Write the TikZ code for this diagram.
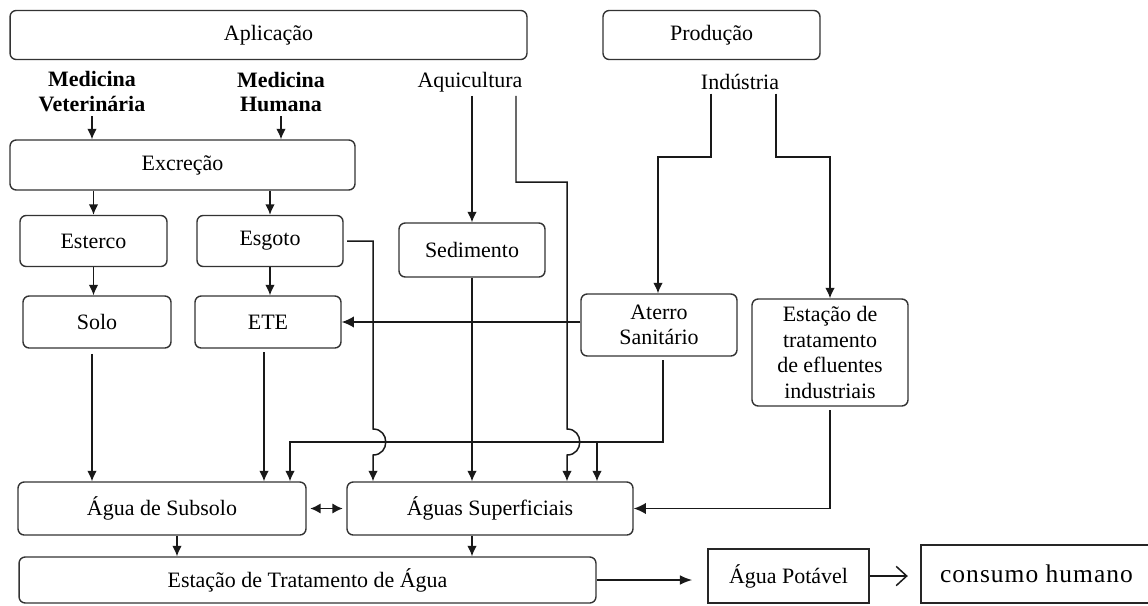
\documentclass[tikz,border=0pt]{standalone}
\usepackage{fontspec}
\setmainfont{Liberation Serif}
\usetikzlibrary{arrows.meta}

\begin{document}
\begin{tikzpicture}[x=0.02cm, y=-0.02cm,
    font=\fontsize{12.5}{14.5}\selectfont,
    box/.style={draw=black!80, line width=0.8pt, rounded corners=3.5pt, inner sep=0pt, align=center},
    plainbox/.style={draw=black!85, line width=0.9pt, inner sep=0pt, align=center},
    source/.style={inner sep=2pt, align=center},
    conn/.style={black!90, line width=0.85pt},
    tip/.style={-{Latex[length=6pt,width=5.5pt]}}]
    \useasboundingbox (0,0) rectangle (1148,605);
    % headers
    \node[box, minimum width=10.34cm, minimum height=0.98cm] (Aplicacao) at (268.5,35) {Aplicação};
    \node[box, minimum width=4.34cm, minimum height=0.98cm] (Producao) at (711.5,35) {Produção};
    % sources
    \node[source, font=\fontsize{12.5}{14.2}\selectfont\bfseries] (MedVet) at (92,92) {Medicina\\Veterinária};
    \node[source, font=\fontsize{12.5}{14.2}\selectfont\bfseries] (MedHum) at (281,92) {Medicina\\Humana};
    \node[source] (Aquicultura) at (470,82) {Aquicultura};
    \node[source] (Industria) at (740,82) {Indústria};
    % boxes
    \node[box, minimum width=6.9cm, minimum height=1.0cm] (Excrecao) at (182.5,165) {Excreção};
    \node[box, minimum width=2.94cm, minimum height=1.02cm] (Esterco) at (93.5,241) {Esterco};
    \node[box, minimum width=2.92cm, minimum height=1.02cm] (Esgoto) at (270,241) {Esgoto};
    \node[box, minimum width=2.92cm, minimum height=1.08cm] (Sedimento) at (472,250) {Sedimento};
    \node[box, minimum width=2.96cm, minimum height=1.04cm] (Solo) at (97,322) {Solo};
    \node[box, minimum width=2.92cm, minimum height=1.04cm] (ETE) at (268,322) {ETE};
    \node[box, minimum width=3.12cm, minimum height=1.24cm] (Aterro) at (659,325) {Aterro\\Sanitário};
    \node[box, minimum width=3.12cm, minimum height=2.14cm] (Efluentes) at (830,352.5) {Estação de\\tratamento\\de efluentes\\industriais};
    \node[box, minimum width=5.76cm, minimum height=1.06cm] (Subsolo) at (162,508.5) {Água de Subsolo};
    \node[box, minimum width=5.72cm, minimum height=1.06cm] (Superf) at (490,508.5) {Águas Superficiais};
    \node[box, minimum width=11.54cm, minimum height=0.92cm] (Estacao) at (307.5,580) {Estação de Tratamento de Água};
    \node[plainbox, minimum width=3.22cm, minimum height=1.08cm] (Potavel) at (788.5,576) {Água Potável};
    \node[plainbox, line width=1.4pt, minimum width=4.62cm, minimum height=1.16cm,
          font=\fontsize{14.5}{16}\selectfont\addfontfeature{LetterSpace=4}] (Consumo) at (1036.5,574) {consumo humano};
    % bends and hops
    \coordinate (AquiDrop)     at ([xshift=0.92cm]Aquicultura.south);
    \coordinate (AquiTurn)     at (567,182);
    \coordinate (AquiHopTop)   at (567,429);
    \coordinate (AquiHopBot)   at (567,455);
    \coordinate (EsgotoHopTop) at (373,429);
    \coordinate (EsgotoHopBot) at (373,455);
    \coordinate (IndLeftTurn)  at (658,157);
    \coordinate (IndRightTurn) at (830,157);
    \coordinate (BusLeft)      at (290,442);
    \coordinate (BusBranch)    at (597,442);
    % application side
    \draw[conn,tip] (MedVet.south) -- (MedVet.south |- Excrecao.north);
    \draw[conn,tip] (MedHum.south) -- (MedHum.south |- Excrecao.north);
    \draw[conn,tip] (Esterco.north |- Excrecao.south) -- (Esterco.north);
    \draw[conn,tip] (Esgoto.north |- Excrecao.south) -- (Esgoto.north);
    \draw[conn,tip] (Esterco.south) -- (Esterco.south |- Solo.north);
    \draw[conn,tip] (Esgoto.south) -- (Esgoto.south |- ETE.north);
    \draw[conn,tip] (Sedimento.north |- Aquicultura.south) -- (Sedimento.north);
    \draw[conn,tip,shorten <=3pt] ([xshift=-0.1cm]Solo.south) -- ([xshift=-0.1cm]Solo.south |- Subsolo.north);
    \draw[conn,tip,shorten <=2pt] ([xshift=-0.08cm]ETE.south) -- ([xshift=-0.08cm]ETE.south |- Subsolo.north);
    \draw[conn,tip] (Sedimento.south) -- (Sedimento.south |- Superf.north);
    % production side
    \draw[conn,tip] ([xshift=-0.58cm]Industria.south) |- (IndLeftTurn) -- (IndLeftTurn |- Aterro.north);
    \draw[conn,tip] ([xshift=0.72cm]Industria.south) |- (IndRightTurn) -- (IndRightTurn |- Efluentes.north);
    \draw[conn,-{Latex[length=7pt,width=6.5pt]}] (Aterro.west |- ETE.east) -- (ETE.east);
    \draw[conn,tip,shorten <=2pt] ([xshift=0.08cm]Aterro.south) |- (BusLeft) -- (BusLeft |- Subsolo.north);
    \draw[conn,tip] (BusBranch) -- (BusBranch |- Superf.north);
    \draw[conn,-{Latex[length=7pt,width=6.5pt]},shorten <=2pt] (Efluentes.south) |- (Superf.east);
    % lines hopping over the bus
    \draw[conn,tip] (AquiDrop) |- (AquiTurn) -- (AquiHopTop)
        .. controls +(17,0) and +(17,0) .. (AquiHopBot) -- (AquiHopBot |- Superf.north);
    \draw[conn,tip,shorten <=2pt] (Esgoto.east) -| (EsgotoHopTop)
        .. controls +(17,0) and +(17,0) .. (EsgotoHopBot) -- (EsgotoHopBot |- Superf.north);
    % waters
    \draw[conn,line width=1.1pt,{Latex[length=6pt,width=6pt]}-{Latex[length=6pt,width=6pt]},shorten <=2pt,shorten >=2pt] (Subsolo.east) -- (Superf.west);
    \draw[conn,tip] ([xshift=0.3cm]Subsolo.south) -- ([xshift=0.3cm]Subsolo.south |- Estacao.north);
    \draw[conn,tip] (Sedimento.south |- Superf.south) -- (Sedimento.south |- Estacao.north);
    \draw[conn,-{Latex[length=7pt,width=5.5pt]},shorten >=0.3cm] (Estacao.east) -- (Estacao.east -| Potavel.west);
    \draw[conn,-{Straight Barb[length=6pt,width=11pt]},shorten >=0.24cm] (Potavel.east) -- (Potavel.east -| Consumo.west);
\end{tikzpicture}
\end{document}
